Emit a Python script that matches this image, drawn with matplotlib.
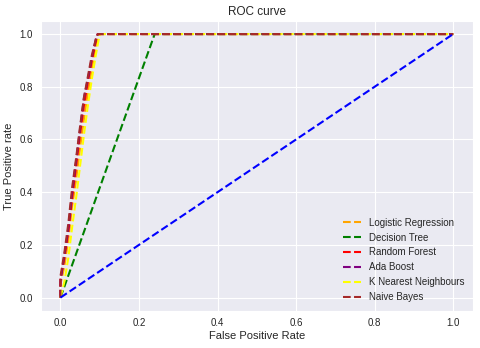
import numpy as np
import matplotlib
matplotlib.use('Agg')
from matplotlib import pyplot as plt
import seaborn as sns

sns.set_style('darkgrid')
plt.rcParams['font.family'] = ['Liberation Sans', 'DejaVu Sans']

# ROC points
lr_fpr = [0.0, 0.0, 0.01, 0.02, 0.03, 0.04, 0.05, 0.06, 0.07, 0.08, 0.09, 0.10, 1.0]
lr_tpr = [0.0, 0.05, 0.12, 0.22, 0.35, 0.45, 0.57, 0.68, 0.78, 0.87, 0.95, 1.0, 1.0]
dt_fpr = [0.0, 0.24, 1.0]
dt_tpr = [0.0, 1.0, 1.0]
rf_fpr = [0.0, 0.0, 0.01, 0.02, 0.03, 0.04, 0.05, 0.06, 0.07, 0.08, 0.09, 0.095, 1.0]
rf_tpr = [0.0, 0.07, 0.15, 0.25, 0.38, 0.50, 0.62, 0.73, 0.82, 0.90, 0.97, 1.0, 1.0]
ab_fpr = [0.0, 0.0, 0.01, 0.02, 0.03, 0.04, 0.05, 0.06, 0.07, 0.08, 0.09, 0.095, 1.0]
ab_tpr = [0.0, 0.06, 0.16, 0.26, 0.40, 0.52, 0.64, 0.76, 0.83, 0.91, 0.98, 1.0, 1.0]
knn_fpr = [0.0, 0.01, 0.02, 0.03, 0.04, 0.05, 0.06, 0.07, 0.08, 0.09, 0.10, 1.0]
knn_tpr = [0.0, 0.06, 0.15, 0.27, 0.38, 0.50, 0.62, 0.73, 0.83, 0.92, 1.0, 1.0]
nb_fpr = [0.0, 0.0, 0.01, 0.02, 0.03, 0.04, 0.05, 0.06, 0.07, 0.08, 0.09, 0.095, 1.0]
nb_tpr = [0.0, 0.08, 0.17, 0.28, 0.42, 0.53, 0.65, 0.76, 0.84, 0.92, 0.98, 1.0, 1.0]
base = [0, 1]

fig, ax = plt.subplots(figsize=(4.8, 3.48), dpi=100)

ax.plot(lr_fpr, lr_tpr, linestyle='--', color='orange', label='Logistic Regression')
ax.plot(dt_fpr, dt_tpr, linestyle='--', color='green', label='Decision Tree')
ax.plot(rf_fpr, rf_tpr, linestyle='--', color='red', label='Random Forest')
ax.plot(ab_fpr, ab_tpr, linestyle='--', color='purple', label='Ada Boost')
ax.plot(knn_fpr, knn_tpr, linestyle='--', color='yellow', label='K Nearest Neighbours')
ax.plot(nb_fpr, nb_tpr, linestyle='--', color='brown', label='Naive Bayes')
ax.plot(base, base, linestyle='--', color='blue')

ax.set_title('ROC curve', fontsize=8.5, pad=4)
ax.set_xlabel('False Positive Rate', fontsize=8, labelpad=2)
ax.set_ylabel('True Positive rate', fontsize=8, labelpad=4)
ax.tick_params(labelsize=7, pad=2)
ax.legend(loc='lower right', fontsize=7, frameon=False, handlelength=1.8)

plt.subplots_adjust(left=0.085, right=0.985, top=0.94, bottom=0.107)
plt.savefig('out.png', dpi=100)
